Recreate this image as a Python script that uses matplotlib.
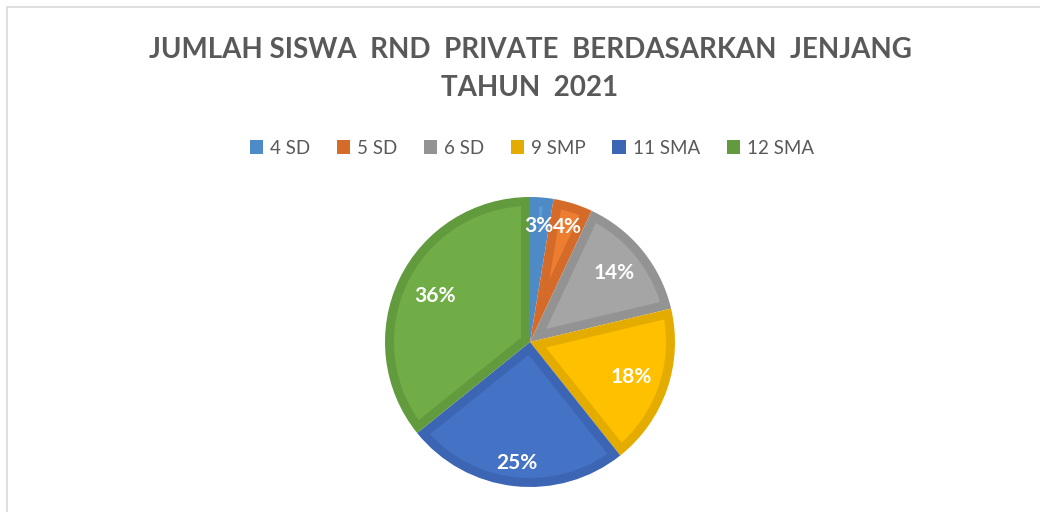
"""
Pie chart: jumlah siswa RND Private per jenjang, tahun 2021.
"""

import numpy as np
import matplotlib
matplotlib.use("Agg")
import matplotlib.pyplot as plt
from matplotlib.patches import Rectangle, Polygon

categories = ["4 SD", "5 SD", "6 SD", "9 SMP", "11 SMA", "12 SMA"]
shares = [2.6, 4.4, 14.3, 18.0, 24.9, 35.8]
colors = ["#5B9BD5", "#ED7D31", "#A5A5A5", "#FFC000", "#4472C4", "#70AD47"]
edge_colors = ["#4E8AC6", "#D56B28", "#939393", "#E5AC00", "#3C65B4", "#629B3E"]
label_dist = [0.80, 0.83, 0.75, 0.74, 0.84, 0.73]

plt.rcParams["font.family"] = ["Lato", "DejaVu Sans"]


def inset_wedge(theta1, theta2, radius, d, n=80):
    # inner part of a wedge, shrunk by d on every side (the darker rim stays outside)
    t1, t2 = np.deg2rad(theta1), np.deg2rad(theta2)
    half = (t2 - t1) / 2
    bis = t1 + half
    apex = d / np.sin(half) * np.array([np.cos(bis), np.sin(bis)])
    ri = radius - d
    da = np.arcsin(d / ri)
    arc = np.linspace(t1 + da, t2 - da, n)
    pts = [apex] + [ri * np.array([np.cos(a), np.sin(a)]) for a in arc]
    return np.array(pts)


W, H = 1040, 512
fig = plt.figure(figsize=(W / 100, H / 100), dpi=100)
fig.patch.set_facecolor("white")

# chart frame (light grey, runs off the right/bottom edge)
fig.patches.append(Rectangle((7 / W, -0.1), 1.2, (H - 7) / H + 0.1,
                             transform=fig.transFigure, fill=False,
                             edgecolor="#D9D9D9", linewidth=1.2))

fig.text(530 / W, 1 - 50 / H, "JUMLAH SISWA  RND  PRIVATE  BERDASARKAN  JENJANG",
         ha="center", va="center", fontsize=20, fontweight="bold", color="#595959")
fig.text(530 / W, 1 - 88 / H, "TAHUN  2021",
         ha="center", va="center", fontsize=20, fontweight="bold", color="#595959")

cx, cy, r = 530, 342, 145
ax = fig.add_axes([(cx - r) / W, (H - cy - r) / H, 2 * r / W, 2 * r / H])
wedges, _ = ax.pie(shares, colors=edge_colors, startangle=90, counterclock=False,
                   radius=1.0, wedgeprops=dict(linewidth=0))

rim = 9 / r
for w, fc in zip(wedges, colors):
    ax.add_patch(Polygon(inset_wedge(w.theta1, w.theta2, 1.0, rim),
                         closed=True, facecolor=fc, edgecolor="none"))

for i, (w, share, d) in enumerate(zip(wedges, shares, label_dist)):
    mid = np.deg2rad((w.theta1 + w.theta2) / 2)
    ha = "right" if i == 0 else ("left" if i == 1 else "center")
    ax.text(d * np.cos(mid) + (0.1 if i == 0 else -0.09 if i == 1 else 0),
            d * np.sin(mid), f"{share:.0f}%",
            ha=ha, va="center", color="white", fontsize=15,
            fontweight="bold")

ax.set_xlim(-1, 1)
ax.set_ylim(-1, 1)
ax.set_aspect("equal")
ax.axis("off")

handles = [plt.Rectangle((0, 0), 1, 1, facecolor=ec, edgecolor="none")
           for ec in edge_colors]
fig.legend(handles, categories, loc="center", bbox_to_anchor=(532 / W, 1 - 148 / H),
           ncol=6, frameon=False, fontsize=13.5, labelcolor="#595959",
           handlelength=0.7, handleheight=0.7, handletextpad=0.4,
           columnspacing=1.4)

fig.savefig("out.png", dpi=100, facecolor="white")
